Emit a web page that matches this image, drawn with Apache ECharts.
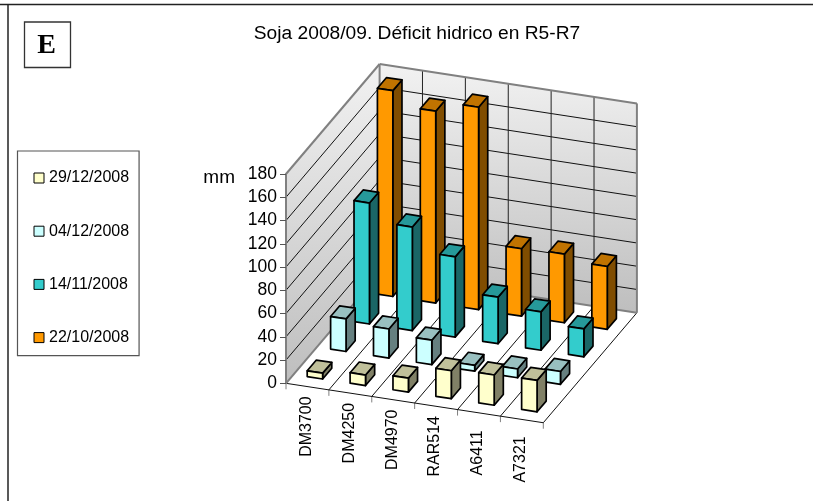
<!DOCTYPE html>
<html><head><meta charset="utf-8">
<style>html,body{margin:0;padding:0;background:#fff}#c{width:813px;height:501px}</style>
<script src="https://cdn.jsdelivr.net/npm/echarts@6/dist/echarts.min.js"></script>
</head><body><div id="c"></div>
<script>
const categories = ['DM3700','DM4250','DM4970','RAR514','A6411','A7321'];
const dates = ['29/12/2008','04/12/2008','14/11/2008','22/10/2008'];
const values291208 = [5, 9, 12, 24, 26, 27];
const values041208 = [28, 25, 21, 5, 7.5, 11];
const values141108 = [104, 89, 69, 40, 33, 24];
const values221008 = [177, 165, 174, 58, 59, 54];
const seriesValues = [values291208, values041208, values141108, values221008];
const yTicks = [0,20,40,60,80,100,120,140,160,180];
const faces = [
  ['#FFFFCC','#C0C09A','#808066'],
  ['#CCFFFF','#99C0C0','#668080'],
  ['#33CCCC','#26999A','#1A6666'],
  ['#FF9900','#C07300','#804D00']
];
// oblique projection, per category step and per depth (series) step
const SKEW = 6.57, DX = 23.4, DY = -27.5;
const BAR_START = 0.32, BAR_SIZE = 0.36, BAR_DEPTH = 0.39, FONT = '"Liberation Sans", Arial, sans-serif';

function projector(api){
  const band = api.size([1,0])[0];
  const x0 = api.coord([0,0])[0] - band/2;
  return (u,d,v)=>[x0+u*band+d*DX, api.coord([0,v])[1]+u*SKEW+d*DY];
}
const nC = categories.length, nD = dates.length, yMax = yTicks[yTicks.length-1];
function renderFrame(params, api){
  const P = projector(api), ch = [];
  const grad = new echarts.graphic.LinearGradient(0,0,0,1,[{offset:0,color:'#F2F2F2'},{offset:1,color:'#BEBEBE'}]);
  const poly = (pts,fill,stroke,w)=>ch.push({type:'polygon',shape:{points:pts},style:{fill:fill,stroke:stroke||null,lineWidth:w||0},silent:true});
  const line = (a,b,c,w)=>ch.push({type:'line',shape:{x1:a[0],y1:a[1],x2:b[0],y2:b[1]},style:{stroke:c,lineWidth:w,fill:null},silent:true});
  poly([P(0,0,0),P(0,nD,0),P(nC,nD,0),P(nC,0,0)],'#fff');
  poly([P(0,0,0),P(0,nD,0),P(0,nD,yMax),P(0,0,yMax)],grad);
  poly([P(0,nD,0),P(nC,nD,0),P(nC,nD,yMax),P(0,nD,yMax)],grad);
  yTicks.slice(1,-1).forEach(t=>{
    line(P(0,0,t),P(0,nD,t),'#111',1);
    line(P(0,nD,t),P(nC,nD,t),'#111',1);
  });
  for(let i=1;i<nC;i++){
    line(P(i,nD,0),P(i,nD,yMax),'#222',1);
    line(P(i,0,0),P(i,nD,0),'#111',1);
  }
  for(let i=0;i<=nC;i++){
    const a=P(i,0,0); line(a,[a[0],a[1]+6],'#808080',1);
  }
  line(P(0,0,0),P(nC,0,0),'#111',1);
  line(P(nC,0,0),P(nC,nD,0),'#111',1);
  [[P(0,nD,0),P(nC,nD,0)],[P(0,0,yMax),P(0,nD,yMax)],[P(0,nD,yMax),P(nC,nD,yMax)],
   [P(nC,nD,0),P(nC,nD,yMax)],[P(0,nD,0),P(0,nD,yMax)],[P(0,0,0),P(0,nD,0)]].forEach(s=>line(s[0],s[1],'#808080',2));
  categories.forEach((c,i)=>{
    const a=P(i+0.5,0,0);
    ch.push({type:'text',rotation:Math.PI/2,x:a[0]-1,y:a[1]+40,silent:true,
      style:{text:c,fill:'#000',font:'16px '+FONT,align:'center',verticalAlign:'middle'}});
  });
  return {type:'group',children:ch};
}
function barRenderer(s){
  return function(params, api){
    const P = projector(api), i = api.value(0), v = api.value(1);
    const u0=i+BAR_START,u1=u0+BAR_SIZE,d0=s+BAR_START,d1=d0+BAR_DEPTH,c=faces[s];
    const face=(pts,fill)=>({type:'polygon',shape:{points:pts},silent:true,style:{fill:fill,stroke:'#000',lineWidth:1.7,lineJoin:'round'}});
    return {type:'group',children:[
      face([P(u1,d0,0),P(u1,d1,0),P(u1,d1,v),P(u1,d0,v)],c[2]),
      face([P(u0,d0,v),P(u1,d0,v),P(u1,d1,v),P(u0,d1,v)],c[1]),
      face([P(u0,d0,0),P(u1,d0,0),P(u1,d0,v),P(u0,d0,v)],c[0])
    ]};
  };
}
const barSeries = dates.map((d,s)=>({
  type:'custom',name:d,coordinateSystem:'cartesian2d',z:10+(nD-s),clip:false,silent:true,
  itemStyle:{color:faces[s][0]},encode:{x:0,y:1},
  data:seriesValues[s].map((v,i)=>[i,v]),renderItem:barRenderer(s)
}));
const frameSeries = {type:'custom',name:'frame',coordinateSystem:'cartesian2d',z:5,clip:false,silent:true,
  encode:{x:0,y:1},data:[[0,0]],renderItem:renderFrame};

const chart = echarts.init(document.getElementById('c'),null,{renderer:'canvas'});
chart.setOption({
  animation:false,backgroundColor:'#fff',
  title:{text:'Soja 2008/09. Déficit hidrico en R5-R7',left:412,top:19,textAlign:'center',
    textStyle:{fontFamily:FONT,fontSize:19.2,fontWeight:'normal',color:'#000'}},
  grid:{left:286,top:174,width:257.3,height:209.3,containLabel:false},
  xAxis:{type:'category',data:categories,show:false},
  yAxis:{type:'value',min:0,max:yMax,interval:20,z:20,
    name:'mm',nameLocation:'end',nameGap:0,
    nameTextStyle:{fontFamily:FONT,fontSize:19,color:'#000',align:'right',verticalAlign:'top',padding:[-6,51,0,0]},
    axisLine:{show:true,lineStyle:{color:'#808080',width:2}},
    axisTick:{show:true,length:6,lineStyle:{color:'#555',width:1}},
    axisLabel:{fontFamily:FONT,fontSize:17.5,color:'#000',margin:9},
    splitLine:{show:false}},
  legend:{orient:'vertical',left:17.5,top:151,width:122,height:215,padding:[19,10,10,16],itemGap:37.2,
    itemWidth:10,itemHeight:10,icon:'rect',selectedMode:false,
    data:dates,borderColor:'#555',borderWidth:1.2,
    itemStyle:{borderColor:'#000',borderWidth:1},
    textStyle:{fontFamily:FONT,fontSize:16,color:'#000'}},
  graphic:[
    {type:'line',shape:{x1:0,y1:4.5,x2:813,y2:4.5},style:{stroke:'#222',lineWidth:1.5}},
    {type:'line',shape:{x1:8,y1:4.5,x2:8,y2:501},style:{stroke:'#222',lineWidth:1.5}},
    {type:'rect',shape:{x:24.5,y:22,width:46,height:45.5},style:{fill:'#fff',stroke:'#333',lineWidth:1.3}},
    {type:'text',x:46.5,y:46,style:{text:'E',font:'bold 28px "Liberation Serif", "Times New Roman", serif',fill:'#000',align:'center',verticalAlign:'middle'}}
  ],
  series:[frameSeries].concat(barSeries.slice().reverse())
});
</script></body></html>
